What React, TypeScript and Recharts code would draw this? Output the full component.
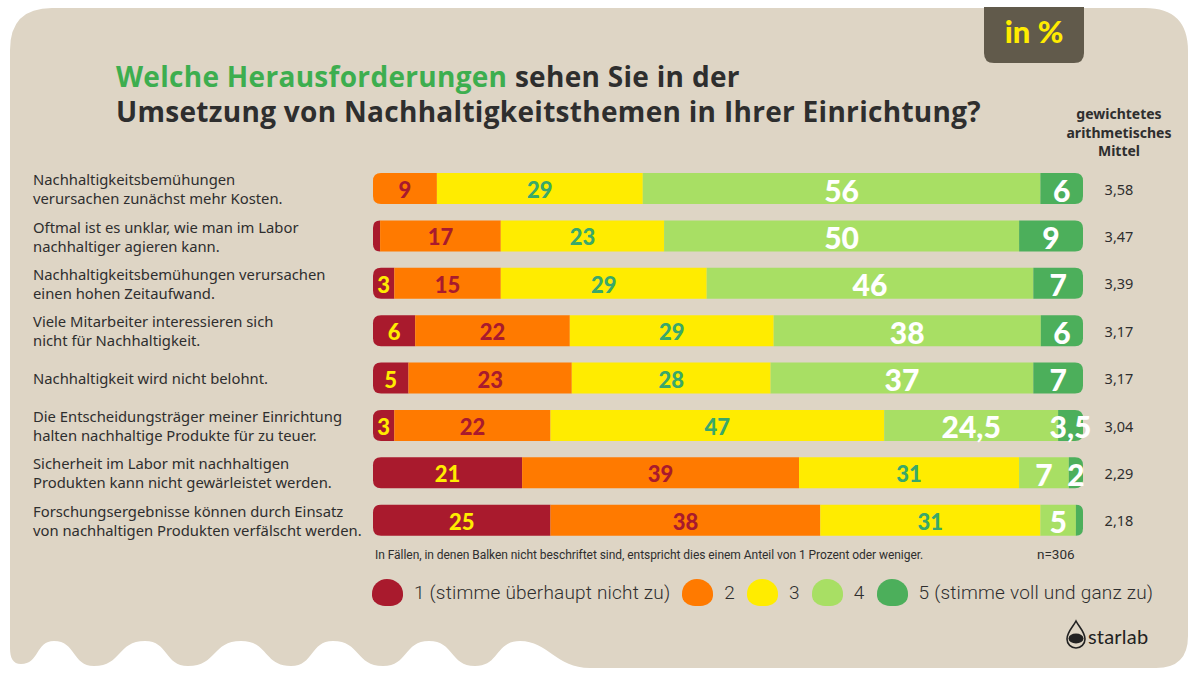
import { BarChart, Bar, XAxis, YAxis, LabelList } from "recharts";

const categories = [
  ["Nachhaltigkeitsbemühungen", "verursachen zunächst mehr Kosten."],
  ["Oftmal ist es unklar, wie man im Labor", "nachhaltiger agieren kann."],
  ["Nachhaltigkeitsbemühungen verursachen", "einen hohen Zeitaufwand."],
  ["Viele Mitarbeiter interessieren sich", "nicht für Nachhaltigkeit."],
  ["Nachhaltigkeit wird nicht belohnt."],
  ["Die Entscheidungsträger meiner Einrichtung", "halten nachhaltige Produkte für zu teuer."],
  ["Sicherheit im Labor mit nachhaltigen", "Produkten kann nicht gewärleistet werden."],
  ["Forschungsergebnisse können durch Einsatz", "von nachhaltigen Produkten verfälscht werden."],
];
const s1 = [0, 1, 3, 6, 5, 3, 21, 25];
const s2 = [9, 17, 15, 22, 23, 22, 39, 38];
const s3 = [29, 23, 29, 29, 28, 47, 31, 31];
const s4 = [56, 50, 46, 38, 37, 24.5, 7, 5];
const s5 = [6, 9, 7, 6, 7, 3.5, 2, 1];
const means = ["3,58", "3,47", "3,39", "3,17", "3,17", "3,04", "2,29", "2,18"];
const legendLabels = ["1 (stimme überhaupt nicht zu)", "2", "3", "4", "5 (stimme voll und ganz zu)"];

const KEYS = ["s1", "s2", "s3", "s4", "s5"];
const COLORS = ["#A91A2D", "#FF7A00", "#FFEC00", "#A8DF64", "#4CAF5B"];
const LABEL_COLORS = ["#FFEC00", "#A91A2D", "#39A86A", "#FFFFFF", "#FFFFFF"];
const LABEL_SIZES = [22, 22, 22, 30, 30];

const data = categories.map((lines, i) => ({
  q: lines.join(" "),
  s1: s1[i],
  s2: s2[i],
  s3: s3[i],
  s4: s4[i],
  s5: s5[i],
}));

const TEXT = "#2E2E2E";

function Seg(props: any, key: string) {
  const { x, y, width, height, fill, payload } = props;
  if (!width || width <= 0) return null;
  const nz = KEYS.filter((k) => payload[k] > 0);
  const r = 8;
  const rl = nz[0] === key ? Math.min(r, width) : 0;
  const rr = nz[nz.length - 1] === key ? Math.min(r, width) : 0;
  const w = width, h = height;
  const d = `M${x + rl},${y} L${x + w - rr},${y} Q${x + w},${y} ${x + w},${y + rr} L${x + w},${y + h - rr} Q${x + w},${y + h} ${x + w - rr},${y + h} L${x + rl},${y + h} Q${x},${y + h} ${x},${y + h - rl} L${x},${y + rl} Q${x},${y} ${x + rl},${y} Z`;
  return <path d={d} fill={fill} />;
}

const mkLabel = (color: string, size: number) => (p: any) => {
  const v = Number(p.value);
  if (!v || v <= 1) return null;
  const cx = Number(p.x) + Number(p.width) / 2;
  const cy = Number(p.y) + Number(p.height) / 2 + 1;
  return (
    <text x={cx} y={cy} fill={color} textAnchor="middle" dominantBaseline="central" fontSize={size} fontWeight={900} fontFamily="Lato">
      {String(v).replace(".", ",")}
    </text>
  );
};

const CatTick = (p: any) => {
  const lines = categories[p.index] || [];
  const start = p.y - ((lines.length - 1) * 19) / 2;
  return (
    <text x={13} y={start} fill={TEXT} fontSize={14.8} fontFamily="Noto Sans" textAnchor="start" dominantBaseline="central">
      {lines.map((l, i) => (
        <tspan key={i} x={13} y={start + i * 19}>{l}</tspan>
      ))}
    </text>
  );
};

const MeanTick = (p: any) => (
  <text x={1099} y={p.y} fill={TEXT} fontSize={14.5} fontFamily="Noto Sans" textAnchor="middle" dominantBaseline="central">
    {means[p.index]}
  </text>
);

function wavePath() {
  // decorative card outline with wavy lower-left edge
  const pts = [
    [520, 641], [475, 666], [429, 641], [383, 666], [333, 641], [291, 666],
    [241, 641], [188, 666], [145, 641], [94, 666], [54, 641], [21, 664],
  ];
  let d = "M10,50 Q10,8 52,8 L1145,8 Q1188,8 1188,51 L1188,636 Q1188,668 1156,668 L590,668 C556,668 548,641 520,641";
  for (let i = 1; i < pts.length; i++) {
    const [x0, y0] = pts[i - 1];
    const [x1, y1] = pts[i];
    const m = (x1 - x0) * 0.55;
    d += ` C${x0 + m},${y0} ${x1 - m},${y1} ${x1},${y1}`;
  }
  d += " C13,664 10,658 10,648 Z";
  return d;
}

export default function App() {
  return (
    <div style={{ position: "absolute", left: 0, top: 0, width: 1200, height: 675, background: "#fff", overflow: "hidden", fontFamily: "Noto Sans", color: TEXT }}>
      <svg width={1200} height={675} style={{ position: "absolute", left: 0, top: 0 }}>
        <path d={wavePath()} fill="#DED5C5" />
        <path d="M984,7 L1084,7 L1084,53 Q1084,63 1074,63 L994,63 Q984,63 984,53 Z" fill="#615A4B" />
        <path d="M1076,621 C1073,627 1067,632 1067,639 A9,9 0 0 0 1085,639 C1085,632 1079,627 1076,621 Z" fill="none" stroke="#222" strokeWidth={1.6} />
        <ellipse cx={1076} cy={638.5} rx={7.5} ry={5} fill="#222" />
      </svg>

      <div style={{ position: "absolute", left: 984, top: 12, width: 100, textAlign: "center", fontFamily: "Lato", fontWeight: 900, fontSize: 31, color: "#FFEC00" }}>in %</div>

      <div style={{ position: "absolute", left: 116, top: 59, fontFamily: "Open Sans", fontWeight: 700, fontSize: 28, letterSpacing: 0.3, lineHeight: "35px", color: TEXT, whiteSpace: "nowrap" }}>
        <span style={{ color: "#3DAE4F" }}>Welche Herausforderungen</span> sehen Sie in der
        <br />
        Umsetzung von Nachhaltigkeitsthemen in Ihrer Einrichtung?
      </div>

      <div style={{ position: "absolute", left: 1059, top: 105, width: 120, textAlign: "center", fontWeight: 700, fontSize: 14, lineHeight: "18.5px" }}>
        gewichtetes<br />arithmetisches<br />Mittel
      </div>

      <div style={{ position: "absolute", left: 20, top: 150 }}>
        <BarChart width={1160} height={410} data={data} layout="vertical" stackOffset="expand" margin={{ top: 15, right: 0, bottom: 16, left: 0 }}>
          <XAxis type="number" hide domain={[0, 1]} />
          <YAxis yAxisId="l" type="category" dataKey="q" width={353} axisLine={false} tickLine={false} tick={CatTick} interval={0} />
          <YAxis yAxisId="r" orientation="right" type="category" dataKey="q" width={97} axisLine={false} tickLine={false} tick={MeanTick} interval={0} />
          {KEYS.map((k, i) => (
            <Bar key={k} yAxisId="l" dataKey={k} stackId="a" fill={COLORS[i]} barSize={31} isAnimationActive={false} shape={(p: any) => Seg(p, k)}>
              <LabelList dataKey={k} content={mkLabel(LABEL_COLORS[i], LABEL_SIZES[i])} />
            </Bar>
          ))}
        </BarChart>
      </div>

      <div style={{ position: "absolute", left: 375, top: 548, fontFamily: "Roboto", fontSize: 12, letterSpacing: -0.05, color: TEXT, whiteSpace: "nowrap" }}>
        In Fällen, in denen Balken nicht beschriftet sind, entspricht dies einem Anteil von 1 Prozent oder weniger.
      </div>
      <div style={{ position: "absolute", left: 1037, top: 546, fontFamily: "Roboto", fontSize: 13.5, color: TEXT }}>n=306</div>

      <div style={{ position: "absolute", left: 372, top: 579, display: "flex", alignItems: "center", fontFamily: "Roboto", fontWeight: 300, fontSize: 19, letterSpacing: 0.2, color: TEXT, whiteSpace: "nowrap" }}>
        {legendLabels.map((l, i) => (
          <div key={l} style={{ display: "flex", alignItems: "center", marginRight: 12 }}>
            <div style={{ width: 31, height: 27, background: COLORS[i], borderRadius: "48% 52% 40% 42% / 55% 55% 40% 40%", marginRight: 11 }} />
            <span>{l}</span>
          </div>
        ))}
      </div>

      <div style={{ position: "absolute", left: 1088, top: 624, fontFamily: "Lato", fontSize: 20, color: "#222", letterSpacing: 0.2 }}>starlab</div>
    </div>
  );
}
